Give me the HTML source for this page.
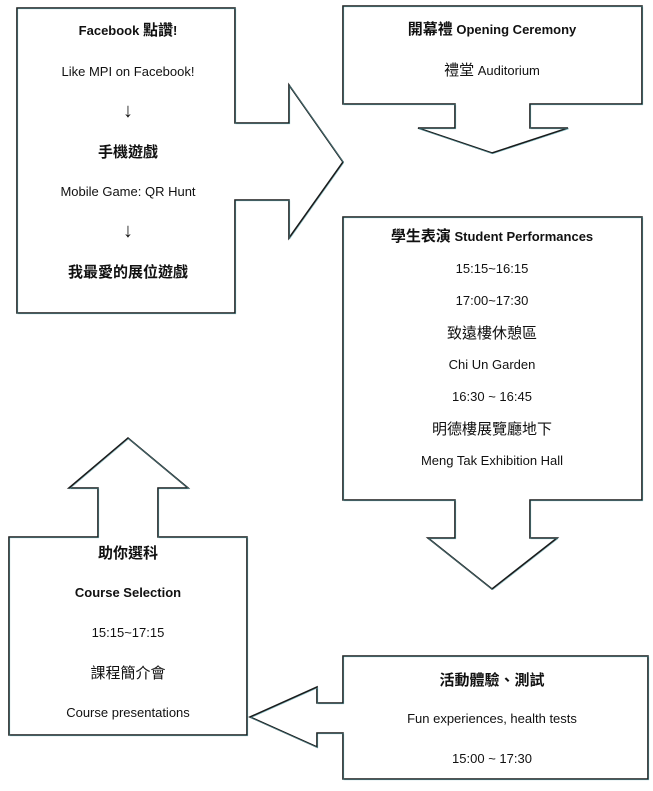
<!DOCTYPE html>
<html><head><meta charset="utf-8"><style>
body{margin:0;background:#fff}
svg text{font-family:"Liberation Sans","Noto Sans CJK TC",sans-serif;font-size:13px;fill:#111;text-anchor:middle}
.b{font-weight:bold}
.c{font-size:15px}
.a{font-size:20px}
</style></head><body>
<svg width="653" height="786" viewBox="0 0 653 786" xmlns="http://www.w3.org/2000/svg">
<g fill="#fff" stroke="#1a1a1a" stroke-width="1.6" stroke-linejoin="miter">
<path d="M17,8 H235 V123 H289 V85 L343,162 L289,238 V200 H235 V313 H17 Z"/>
<path d="M343,6 H642 V104 H530 V128 H568 L492,153 L418,128 H455 V104 H343 Z"/>
<path d="M343,217 H642 V500 H530 V538 H557 L492,589 L428,538 H455 V500 H343 Z"/>
<path d="M343,656 H648 V779 H343 V733 H317 V747 L250,717 L317,687 V703 H343 Z"/>
<path d="M9,537 H98 V488 H69 L128,438 L188,488 H158 V537 H247 V735 H9 Z"/>
</g>
<g stroke="#5fa8b0" stroke-width="0.6" fill="none" opacity="0.8">
<path d="M17.8,8.8 H235.8 V123.8 H289.8 V85.8 L343.8,162.8 L289.8,238.8 V200.8 H235.8 V313.8 H17.8 Z"/>
<path d="M343.8,6.8 H642.8 V104.8 H530.8 V128.8 H568.8 L492.8,153.8 L418.8,128.8 H455.8 V104.8 H343.8 Z"/>
<path d="M343.8,217.8 H642.8 V500.8 H530.8 V538.8 H557.8 L492.8,589.8 L428.8,538.8 H455.8 V500.8 H343.8 Z"/>
<path d="M343.8,656.8 H648.8 V779.8 H343.8 V733.8 H317.8 V747.8 L250.8,717.8 L317.8,687.8 V703.8 H343.8 Z"/>
<path d="M9.8,537.8 H98.8 V488.8 H69.8 L128.8,438.8 L188.8,488.8 H158.8 V537.8 H247.8 V735.8 H9.8 Z"/>
</g>
<text x="128" y="35" class="b">Facebook  <tspan class="c">點讚</tspan>!</text>
<text x="128" y="76">Like MPI on Facebook!</text>
<text x="128" y="117" class="a">↓</text>
<text x="128" y="157" class="b c">手機遊戲</text>
<text x="128" y="196">Mobile Game: QR Hunt</text>
<text x="128" y="237" class="a">↓</text>
<text x="128" y="277" class="b c">我最愛的展位遊戲</text>
<text x="492" y="34" class="b"><tspan class="c">開幕禮</tspan> Opening Ceremony</text>
<text x="492" y="75"><tspan class="c">禮堂</tspan>  Auditorium</text>
<text x="492" y="241" class="b"><tspan class="c">學生表演</tspan>  Student Performances</text>
<text x="492" y="273">15:15~16:15</text>
<text x="492" y="305">17:00~17:30</text>
<text x="492" y="338" class="c">致遠樓休憩區</text>
<text x="492" y="369">Chi Un Garden</text>
<text x="492" y="401">16:30 ~ 16:45</text>
<text x="492" y="434" class="c">明德樓展覽廳地下</text>
<text x="492" y="465">Meng Tak Exhibition Hall</text>
<text x="492" y="685" class="b c">活動體驗、測試</text>
<text x="492" y="723">Fun experiences, health tests</text>
<text x="492" y="763">15:00 ~ 17:30</text>
<text x="128" y="558" class="b c">助你選科</text>
<text x="128" y="597" class="b">Course Selection</text>
<text x="128" y="637">15:15~17:15</text>
<text x="128" y="678" class="c">課程簡介會</text>
<text x="128" y="717">Course presentations</text>
</svg>
</body></html>
